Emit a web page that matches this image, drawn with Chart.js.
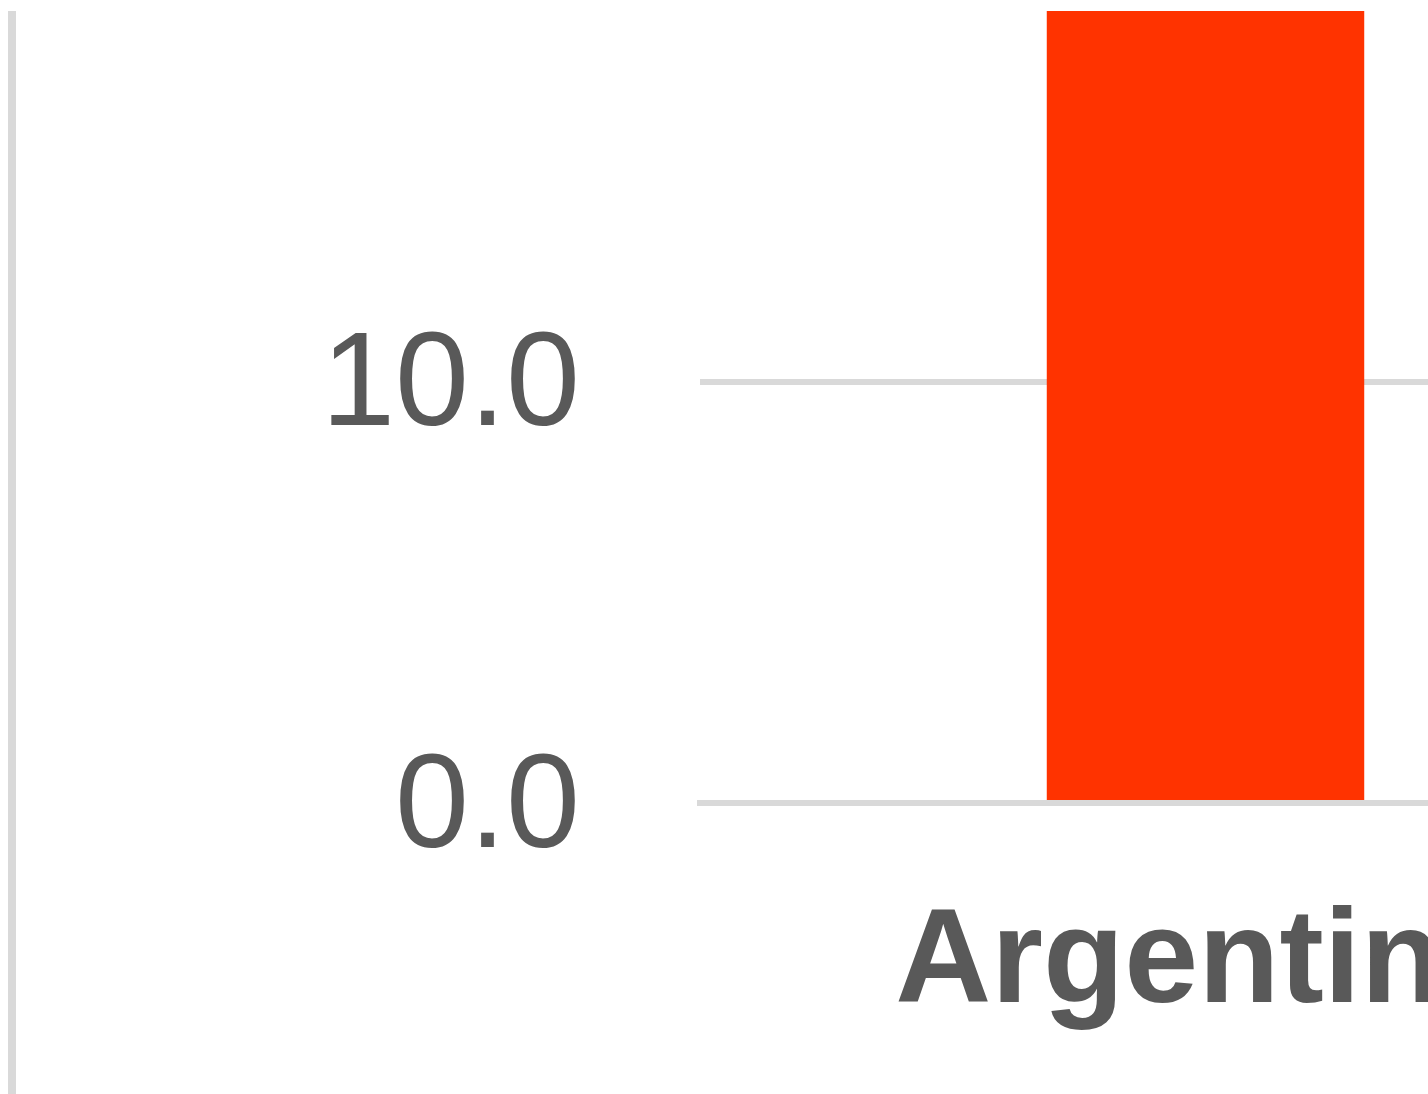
<!DOCTYPE html>
<html>
<head>
<meta charset="utf-8">
<title>Argentina</title>
<script src="https://cdn.jsdelivr.net/npm/chart.js@4"></script>
<style>
  html, body { margin: 0; padding: 0; background: #fff; overflow: hidden; }
  #wrap { position: absolute; left: 0; top: 0; width: 1711px; height: 1094px; }
  #frame { position: absolute; left: 8px; top: 11px; width: 8px; height: 1083px; background: #d9d9d9; }
</style>
</head>
<body>
<div id="wrap"><canvas id="myChart" width="1711" height="1094"></canvas></div>
<div id="frame"></div>
<script>
const CATEGORIES = ['Argentina'];
const VALUES = [18.8];
const Y_TICKS = [0, 10];
const Y_MAX = 18.8;

const GRID_COLOR = '#d9d9d9';
const TEXT_COLOR = '#595959';
const BAR_COLOR = '#ff3300';
const FONT_FAMILY = 'Arial';

function renderChart() {
  const ctx = document.getElementById('myChart');

  let chartOptions = {
    type: 'bar',
    data: {
      labels: CATEGORIES,
      datasets: [{
        data: VALUES,
        backgroundColor: BAR_COLOR,
        borderWidth: 0,
        barPercentage: 0.314,
        categoryPercentage: 1
      }]
    },
    options: {
      responsive: false,
      animation: false,
      devicePixelRatio: 1,
      layout: { padding: { top: 11, left: 0, right: 0, bottom: 0 } },
      plugins: {
        legend: { display: false },
        tooltip: { enabled: false }
      },
      scales: {
        x: {
          grid: { display: false },
          border: { display: true, color: GRID_COLOR, width: 6, z: 1 },
          ticks: {
            color: TEXT_COLOR,
            font: { family: FONT_FAMILY, size: 133, weight: 'bold' },
            padding: 75,
            maxRotation: 0,
            autoSkip: false
          },
          afterFit: function(scale) { scale.height = 291; }
        },
        y: {
          min: 0,
          max: Y_MAX,
          grid: { color: GRID_COLOR, lineWidth: 6, drawTicks: false },
          border: { display: false },
          ticks: {
            color: TEXT_COLOR,
            font: { family: FONT_FAMILY, size: 133 },
            padding: 120,
            labelOffset: 7,
            callback: function(value) { return value.toFixed(1); }
          },
          afterBuildTicks: function(scale) {
            scale.ticks = Y_TICKS.map(v => ({ value: v }));
          },
          afterFit: function(scale) {
            // keep the plot top where the layout padding puts it
            scale.width = 700;
            scale.paddingTop = 0;
            scale.paddingBottom = 0;
          }
        }
      }
    }
  };

  new Chart(ctx, chartOptions);
}

renderChart();
</script>
</body>
</html>
